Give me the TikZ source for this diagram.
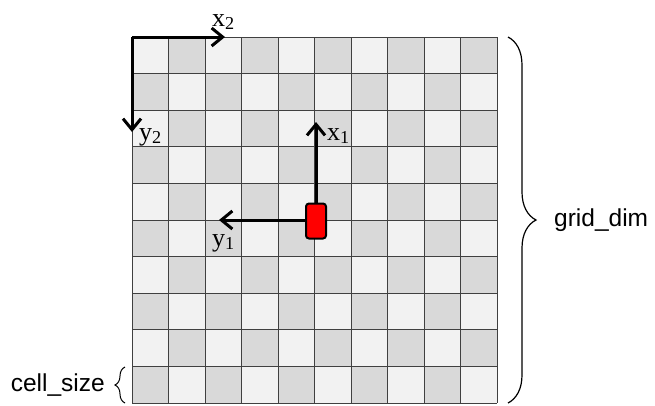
\documentclass[tikz,border=0pt]{standalone}
\usepackage{fontspec}
\setmainfont{Liberation Sans}
\newfontfamily\axisfont{Liberation Serif}
\usetikzlibrary{arrows.meta,decorations.pathreplacing}
\definecolor{celllight}{HTML}{F2F2F2}
\definecolor{celldark}{HTML}{D9D9D9}
\definecolor{gridline}{HTML}{404040}
\tikzset{
  axisarrow/.style={line width=3pt,-{Straight Barb[length=11pt,width=18pt,line width=3pt]}},
  axislabel/.style={font=\axisfont\fontsize{26}{26}\selectfont,inner sep=0pt},
  bracelabel/.style={font=\fontsize{24.5}{24.5}\selectfont,inner sep=0pt},
  robotbox/.style={draw=black,line width=2pt,fill=red,rounded corners=3pt,minimum width=20pt,minimum height=35pt,inner sep=0pt},
}
\begin{document}
\begin{tikzpicture}[x=1pt,y=-1pt]
\useasboundingbox (0,0) rectangle (655,405);
% checkerboard
\foreach \r in {0,...,9}{
  \foreach \c in {0,...,9}{
    \pgfmathtruncatemacro{\parity}{mod(\r+\c,2)}
    \ifnum\parity=0
      \fill[celllight] ({132+36.5*\c},{37+36.6*\r}) rectangle ++(36.5,36.6);
    \else
      \fill[celldark] ({132+36.5*\c},{37+36.6*\r}) rectangle ++(36.5,36.6);
    \fi
  }
}
\foreach \i in {0,...,10}{
  \draw[gridline,line width=0.8pt] ({132+36.5*\i},37) -- ({132+36.5*\i},403);
  \draw[gridline,line width=0.8pt] (132,{37+36.6*\i}) -- (497,{37+36.6*\i});
}
% origin axes
\coordinate (o2) at (132,37);
\coordinate (x2end) at (225,37);
\coordinate (y2end) at (132,132);
\draw[axisarrow] (o2) -- (x2end);
\draw[axisarrow] (o2) -- (y2end);
\node[axislabel,anchor=base west] (x2) at (212,26) {x\textsubscript{2}};
\node[axislabel,anchor=base west] (y2) at (139,140) {y\textsubscript{2}};
% robot
\node[robotbox] (robot) at (316,221) {};
\coordinate (x1end) at (316,122);
\coordinate (y1end) at (219,220);
\draw[axisarrow] (robot.north) -- (x1end);
\draw[axisarrow] (robot.west|-y1end) -- (y1end);
\node[axislabel,anchor=base west] (x1) at (327,140) {x\textsubscript{1}};
\node[axislabel,anchor=base west] (y1) at (212,246) {y\textsubscript{1}};
% braces
\coordinate (gdtop) at (508,37);
\coordinate (gdbot) at (508,403);
\draw[line width=1.2pt,decorate,decoration={brace,amplitude=28pt,aspect=0.5}] (gdtop) -- (gdbot);
\node[bracelabel,anchor=west] (griddim) at (554,220) {grid\_dim};
\coordinate (csbot) at (125,403);
\coordinate (cstop) at (125,367);
\draw[line width=1pt,decorate,decoration={brace,amplitude=10pt}] (csbot) -- (cstop);
\node[bracelabel,anchor=east] (cellsize) at (105,385) {cell\_size};
\end{tikzpicture}
\end{document}
